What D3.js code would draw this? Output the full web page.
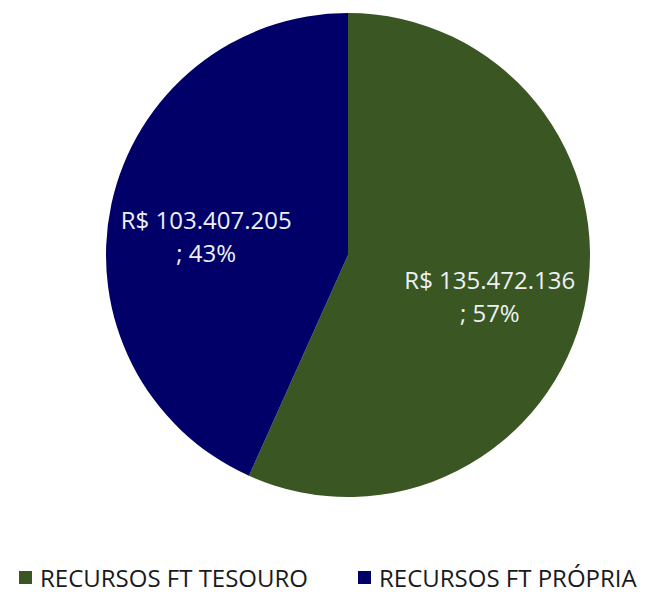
<!DOCTYPE html>
<html>
<head>
<meta charset="utf-8">
<script src="https://cdn.jsdelivr.net/npm/d3@7"></script>
<style>
  body { margin: 0; background: #fff; }
</style>
</head>
<body>
<div class="chart"></div>
<script>
const width = 650
const height = 595

// data
const categories = ["RECURSOS FT TESOURO", "RECURSOS FT PRÓPRIA"]
const values = [135472136, 103407205]
const percents = ["57%", "43%"]
const colors = ["#3a5723", "#000068"]

const cx = 348
const cy = 255
const radius = 242

const data = categories.map((c, i) => ({ name: c, value: values[i], pct: percents[i], color: colors[i] }))

const svg = d3.select(".chart")
    .append("svg")
    .attr("width", width)
    .attr("height", height)

const pie = d3.pie()
    .sort(null)
    .value(d => d.value)

const arc = d3.arc()
    .innerRadius(0)
    .outerRadius(radius)

const labelArc = d3.arc()
    .innerRadius(145)
    .outerRadius(145)

const g = svg.append("g")
    .attr("transform", `translate(${cx}, ${cy})`)

const slices = pie(data)

g.selectAll("path")
    .data(slices)
    .join("path")
    .attr("d", arc)
    .attr("fill", d => d.data.color)

const fmt = v => "R$ " + d3.format(",")(v).replace(/,/g, ".")

const labels = g.selectAll("text.lbl")
    .data(slices)
    .join("text")
    .attr("class", "lbl")
    .attr("transform", d => `translate(${labelArc.centroid(d)})`)
    .attr("text-anchor", "middle")
    .attr("font-family", "Open Sans")
    .attr("font-size", 24)
    .attr("fill", "#eef0f4")

labels.append("tspan")
    .attr("x", 0)
    .attr("y", 4)
    .text(d => fmt(d.data.value))

labels.append("tspan")
    .attr("x", 0)
    .attr("y", 37)
    .text(d => "; " + d.data.pct)

// legend
const legendX = [19, 358]
const legend = svg.selectAll("g.legend")
    .data(data)
    .join("g")
    .attr("class", "legend")
    .attr("transform", (d, i) => `translate(${legendX[i]}, 571)`)

legend.append("rect")
    .attr("width", 13)
    .attr("height", 13)
    .attr("fill", d => d.color)

legend.append("text")
    .attr("x", 21)
    .attr("y", 16)
    .attr("font-family", "Open Sans")
    .attr("font-size", 24)
    .attr("fill", "#1a1a1a")
    .text(d => d.name)
</script>
</body>
</html>
